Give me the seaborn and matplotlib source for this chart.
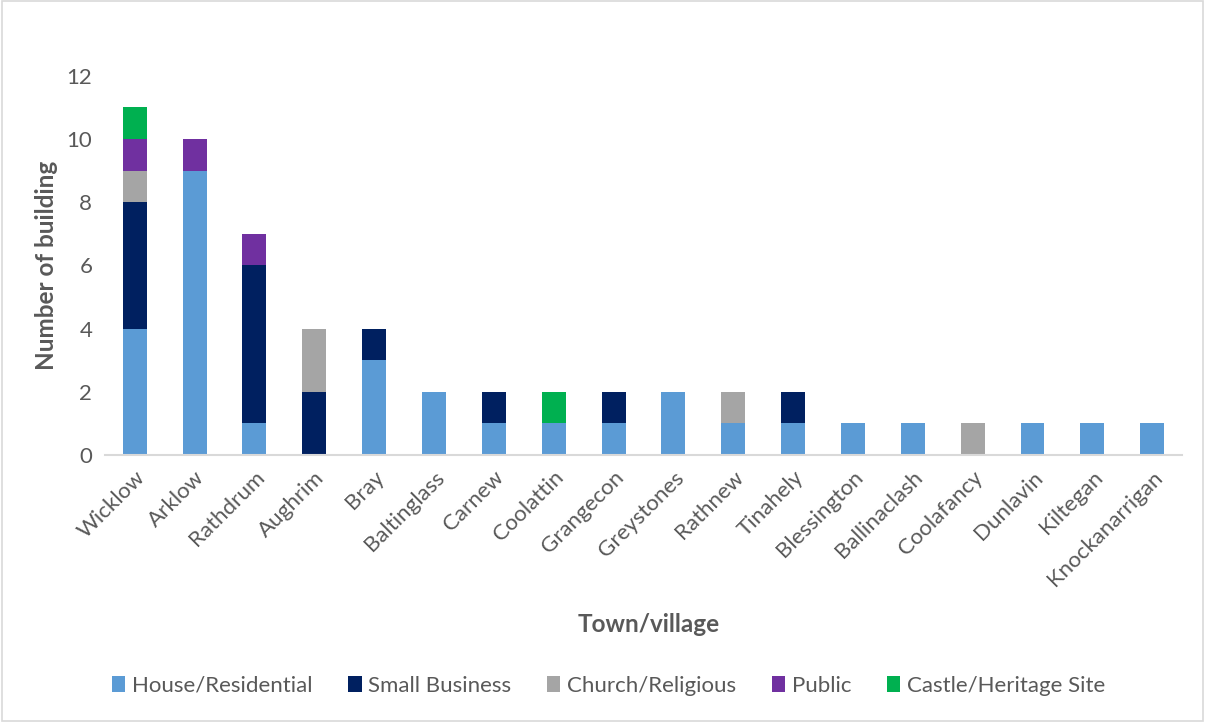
import matplotlib
matplotlib.use("Agg")
import matplotlib.pyplot as plt
import seaborn as sns
import pandas as pd
from matplotlib.patches import Patch, Rectangle

towns = ["Wicklow", "Arklow", "Rathdrum", "Aughrim", "Bray", "Baltinglass", "Carnew",
         "Coolattin", "Grangecon", "Greystones", "Rathnew", "Tinahely", "Blessington",
         "Ballinaclash", "Coolafancy", "Dunlavin", "Kiltegan", "Knockanarrigan"]
house =    [4, 9, 1, 0, 3, 2, 1, 1, 1, 2, 1, 1, 1, 1, 0, 1, 1, 1]
business = [4, 0, 5, 2, 1, 0, 1, 0, 1, 0, 0, 1, 0, 0, 0, 0, 0, 0]
church =   [1, 0, 0, 2, 0, 0, 0, 0, 0, 0, 1, 0, 0, 0, 1, 0, 0, 0]
public =   [1, 1, 1, 0, 0, 0, 0, 0, 0, 0, 0, 0, 0, 0, 0, 0, 0, 0]
castle =   [1, 0, 0, 0, 0, 0, 0, 1, 0, 0, 0, 0, 0, 0, 0, 0, 0, 0]

series_names = ["House/Residential", "Small Business", "Church/Religious", "Public", "Castle/Heritage Site"]
series_vals = [house, business, church, public, castle]
colors = ["#5B9BD5", "#002060", "#A5A5A5", "#7030A0", "#00B050"]

rows = []
for name, vals in zip(series_names, series_vals):
    for t, v in zip(towns, vals):
        rows.append({"town": t, "type": name, "count": v})
df = pd.DataFrame(rows)
df["pos"] = df["town"].map({t: i for i, t in enumerate(towns)})

sns.set_theme(style="white")
plt.rcParams["font.family"] = ["Lato", "DejaVu Sans"]
text_color = "#595959"

fig = plt.figure(figsize=(12.05, 7.22), dpi=100)
ax = fig.add_axes([0.087, 0.370, 0.894, 0.525])

# stack order: first hue level ends on top in seaborn, so reverse
sns.histplot(data=df, x="pos", weights="count", hue="type",
             hue_order=series_names[::-1], palette=dict(zip(series_names, colors)),
             multiple="stack", discrete=True, shrink=0.4, alpha=1,
             linewidth=0, edgecolor="none", legend=False, ax=ax)

ax.set_xlim(-0.5, len(towns) - 0.5)
ax.set_ylim(0, 12)
ax.set_yticks(range(0, 13, 2))
ax.set_xticks(range(len(towns)))
ax.set_xticklabels(towns, rotation=45, ha="right", rotation_mode="anchor")
ax.tick_params(axis="both", length=0, labelsize=16, colors=text_color)
ax.tick_params(axis="x", pad=9)
ax.tick_params(axis="y", pad=9)
for lab in ax.get_xticklabels() + ax.get_yticklabels():
    lab.set_color(text_color)

for s in ["top", "right", "left"]:
    ax.spines[s].set_visible(False)
ax.spines["bottom"].set_color("#D9D9D9")
ax.spines["bottom"].set_linewidth(1.5)
ax.grid(False)

ax.set_ylabel("")
ax.set_xlabel("")
fig.text(46 / 1205, 1 - 265 / 722, "Number of building", fontsize=17.5, fontweight="bold",
         color=text_color, ha="center", va="center", rotation=90)
fig.text(649 / 1205, 1 - 625 / 722, "Town/village", fontsize=17.5, fontweight="bold",
         color=text_color, ha="center", va="center")

handles = [Patch(facecolor=c, edgecolor="none") for c in colors]
fig.legend(handles, series_names, loc="center", bbox_to_anchor=(0.505, 1 - 686 / 722),
           ncol=5, frameon=False, fontsize=16, handlelength=0.6, handleheight=0.7,
           handletextpad=0.3, columnspacing=1.6, labelcolor=text_color)

fig.patches.append(Rectangle((0.002, 0.002), 0.996, 0.996, transform=fig.transFigure,
                             fill=False, edgecolor="#D9D9D9", linewidth=1.2))

fig.savefig("out.png", dpi=100, facecolor="white")
